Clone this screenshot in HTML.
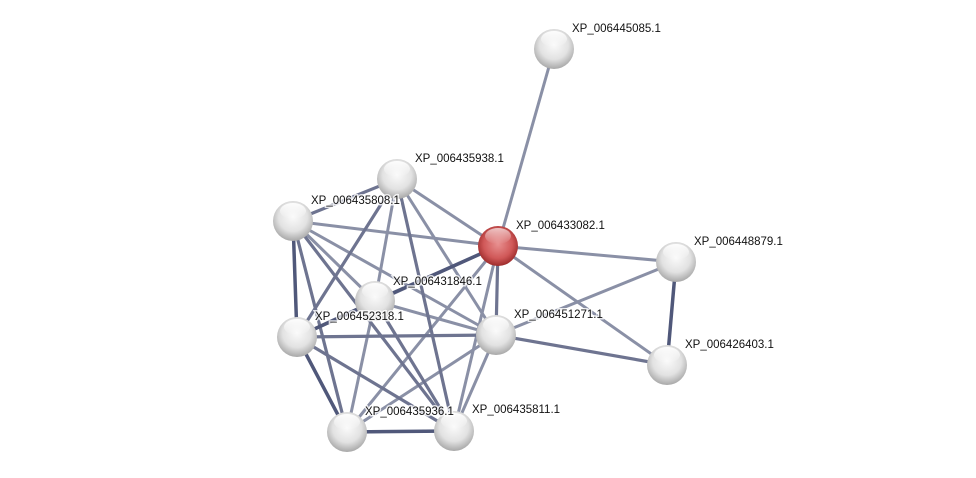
<!DOCTYPE html>
<html><head><style>body{margin:0;background:#fff}svg{display:block}text{font-family:"Liberation Sans",sans-serif;font-size:11.5px;fill:#111;paint-order:stroke;stroke:#fff;stroke-width:3px;stroke-opacity:.8}</style></head><body>
<svg width="976" height="478" viewBox="0 0 976 478">
<defs>
<radialGradient id="g" cx="50%" cy="40%" r="60%"><stop offset="0" stop-color="#fafafa"/><stop offset=".6" stop-color="#e2e2e2"/><stop offset="1" stop-color="#a8a8a8"/></radialGradient>
<radialGradient id="r" cx="50%" cy="45%" r="60%"><stop offset="0" stop-color="#e89090"/><stop offset=".6" stop-color="#d05858"/><stop offset="1" stop-color="#902020"/></radialGradient>
<linearGradient id="h" x1="0" y1="0" x2="0" y2="1"><stop offset="0" stop-color="#fff" stop-opacity=".95"/><stop offset="1" stop-color="#fff" stop-opacity="0"/></linearGradient>
</defs>
<g stroke-linecap="round">
<g stroke="#8a90a6" stroke-width="3">
<line x1="554" y1="49" x2="498" y2="246"/>
<line x1="397" y1="179" x2="498" y2="246"/>
<line x1="397" y1="179" x2="496" y2="335"/>
<line x1="293" y1="221" x2="498" y2="246"/>
<line x1="293" y1="221" x2="496" y2="335"/>
<line x1="498" y1="246" x2="667" y2="365"/>
<line x1="498" y1="246" x2="347" y2="432"/>
<line x1="498" y1="246" x2="454" y2="431"/>
<line x1="676" y1="262" x2="496" y2="335"/>
<line x1="375" y1="301" x2="496" y2="335"/>
<line x1="397" y1="179" x2="375" y2="301"/>
<line x1="375" y1="301" x2="347" y2="432"/>
<line x1="496" y1="335" x2="454" y2="431"/>
<line x1="496" y1="335" x2="347" y2="432"/>
<line x1="293" y1="221" x2="375" y2="301"/>
<line x1="498" y1="246" x2="676" y2="262"/>
</g>
<g stroke="#6e7490" stroke-width="3.2">
<line x1="397" y1="179" x2="293" y2="221"/>
<line x1="397" y1="179" x2="297" y2="337"/>
<line x1="397" y1="179" x2="454" y2="431"/>
<line x1="498" y1="246" x2="496" y2="335"/>
<line x1="498" y1="246" x2="297" y2="337"/>
<line x1="496" y1="335" x2="667" y2="365"/>
<line x1="297" y1="337" x2="496" y2="335"/>
<line x1="293" y1="221" x2="454" y2="431"/>
<line x1="293" y1="221" x2="347" y2="432"/>
<line x1="375" y1="301" x2="454" y2="431"/>
<line x1="297" y1="337" x2="454" y2="431"/>
</g>
<g stroke="#50587a" stroke-width="3.5">
<line x1="498" y1="246" x2="375" y2="301"/>
<line x1="293" y1="221" x2="297" y2="337"/>
<line x1="297" y1="337" x2="347" y2="432"/>
<line x1="347" y1="432" x2="454" y2="431"/>
<line x1="676" y1="262" x2="667" y2="365"/>
<line x1="297" y1="337" x2="375" y2="301"/>
</g>
</g>
<g>
<g transform="translate(554,49)"><circle r="20" fill="url(#g)"/><ellipse cy="-10" rx="13" ry="8" fill="url(#h)"/></g>
<g transform="translate(397,179)"><circle r="20" fill="url(#g)"/><ellipse cy="-10" rx="13" ry="8" fill="url(#h)"/></g>
<g transform="translate(293,221)"><circle r="20" fill="url(#g)"/><ellipse cy="-10" rx="13" ry="8" fill="url(#h)"/></g>
<g transform="translate(498,246)"><circle r="20" fill="url(#r)"/><ellipse cy="-10" rx="13" ry="8" fill="url(#h)" opacity=".7"/></g>
<g transform="translate(676,262)"><circle r="20" fill="url(#g)"/><ellipse cy="-10" rx="13" ry="8" fill="url(#h)"/></g>
<g transform="translate(375,301)"><circle r="20" fill="url(#g)"/><ellipse cy="-10" rx="13" ry="8" fill="url(#h)"/></g>
<g transform="translate(297,337)"><circle r="20" fill="url(#g)"/><ellipse cy="-10" rx="13" ry="8" fill="url(#h)"/></g>
<g transform="translate(496,335)"><circle r="20" fill="url(#g)"/><ellipse cy="-10" rx="13" ry="8" fill="url(#h)"/></g>
<g transform="translate(667,365)"><circle r="20" fill="url(#g)"/><ellipse cy="-10" rx="13" ry="8" fill="url(#h)"/></g>
<g transform="translate(347,432)"><circle r="20" fill="url(#g)"/><ellipse cy="-10" rx="13" ry="8" fill="url(#h)"/></g>
<g transform="translate(454,431)"><circle r="20" fill="url(#g)"/><ellipse cy="-10" rx="13" ry="8" fill="url(#h)"/></g>
</g>
<text x="572" y="32">XP_006445085.1</text>
<text x="415" y="162">XP_006435938.1</text>
<text x="311" y="204">XP_006435808.1</text>
<text x="516" y="229">XP_006433082.1</text>
<text x="694" y="245">XP_006448879.1</text>
<text x="393" y="285">XP_006431846.1</text>
<text x="315" y="320">XP_006452318.1</text>
<text x="514" y="318">XP_006451271.1</text>
<text x="685" y="348">XP_006426403.1</text>
<text x="365" y="415">XP_006435936.1</text>
<text x="472" y="413">XP_006435811.1</text>
</svg>
</body></html>
